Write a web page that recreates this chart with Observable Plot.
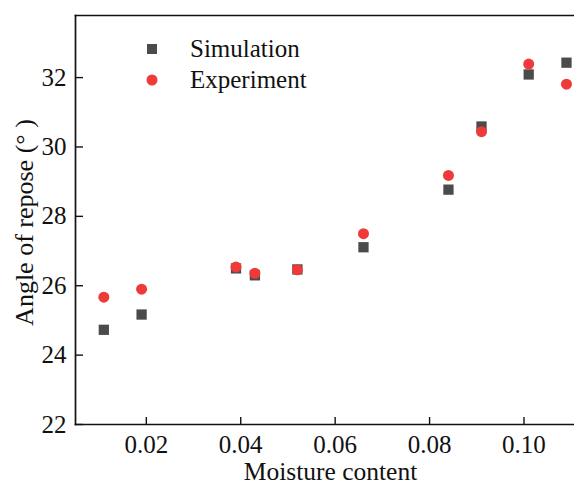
<!DOCTYPE html>
<html>
<head>
<meta charset="utf-8">
<script src="https://cdn.jsdelivr.net/npm/d3@7"></script>
<script src="https://cdn.jsdelivr.net/npm/@observablehq/plot@0.6"></script>
<style>
  html, body { margin: 0; padding: 0; background: #fff; }
  #wrap { position: relative; width: 574px; height: 485px; font-family: "Liberation Serif", serif; }
  #legend { position: absolute; left: 140px; top: 33px; font-size: 25px; color: #111; }
  #legend .row { display: flex; align-items: center; height: 31px; }
  #legend svg { width: 24px; height: 24px; margin-right: 26px; }
</style>
</head>
<body>
<div id="wrap"><div id="legend"></div></div>
<script>
const moisture = [0.011, 0.019, 0.039, 0.043, 0.052, 0.066, 0.084, 0.091, 0.101, 0.109];
const simulation = [24.73, 25.17, 26.50, 26.30, 26.47, 27.11, 28.77, 30.59, 32.09, 32.43];
const experiment = [25.67, 25.90, 26.54, 26.36, 26.46, 27.50, 29.18, 30.44, 32.39, 31.81];
const xTicks = [0.02, 0.04, 0.06, 0.08, 0.10];
const yTicks = [22, 24, 26, 28, 30, 32];
const seriesNames = ["Simulation", "Experiment"];
const seriesColors = ["#4b4b4b", "#ef3a3a"];
const xLabel = "Moisture content";
const yLabel = "Angle of repose (° )";

const sim = moisture.map((m, i) => ({x: m, y: simulation[i]}));
const exp = moisture.map((m, i) => ({x: m, y: experiment[i]}));

const chart = Plot.plot({
  width: 574,
  height: 485,
  marginLeft: 75,
  marginRight: 0,
  marginTop: 15,
  marginBottom: 61,
  style: {fontFamily: "'Liberation Serif', serif", fontSize: "25px", color: "#111", background: "#fff"},
  x: {domain: [0.005, 0.1107]},
  y: {domain: [22, 33.79]},
  marks: [
    Plot.frame({anchor: "top", strokeWidth: 1.7, stroke: "#111"}),
    Plot.frame({anchor: "left", strokeWidth: 1.7, stroke: "#111"}),
    Plot.frame({anchor: "bottom", strokeWidth: 1.7, stroke: "#111"}),
    Plot.axisX({ticks: xTicks, tickFormat: d3.format(".2f"), tickSize: -7, tickPadding: 18, strokeWidth: 1.4, fontSize: 25, label: null}),
    Plot.axisY({ticks: yTicks, tickFormat: d => String(d), tickSize: -8, tickPadding: 17, strokeWidth: 1.4, fontSize: 25, label: null}),
    Plot.text([xLabel], {frameAnchor: "bottom", textAnchor: "middle", lineAnchor: "middle", dx: 5.5, dy: 47.5, fontSize: 25.5, fill: "#111"}),
    Plot.text([yLabel], {frameAnchor: "left", textAnchor: "middle", lineAnchor: "middle", rotate: -90, dx: -51, dy: 2.5, fontSize: 26, fill: "#111"}),
    Plot.dot(sim, {x: "x", y: "y", symbol: "square", r: 5.8, fill: seriesColors[0]}),
    Plot.dot(exp, {x: "x", y: "y", symbol: "circle", r: 5.5, fill: seriesColors[1]})
  ]
});
const wrap = document.getElementById("wrap");
wrap.insertBefore(chart, wrap.firstChild);

const legend = document.getElementById("legend");
seriesNames.forEach((name, i) => {
  const row = document.createElement("div");
  row.className = "row";
  const shape = i === 0
    ? `<rect x="7" y="7" width="10" height="10" fill="${seriesColors[0]}"/>`
    : `<circle cx="12" cy="12" r="5.5" fill="${seriesColors[1]}"/>`;
  row.innerHTML = `<svg viewBox="0 0 24 24">${shape}</svg><span>${name}</span>`;
  legend.appendChild(row);
});
</script>
</body>
</html>
